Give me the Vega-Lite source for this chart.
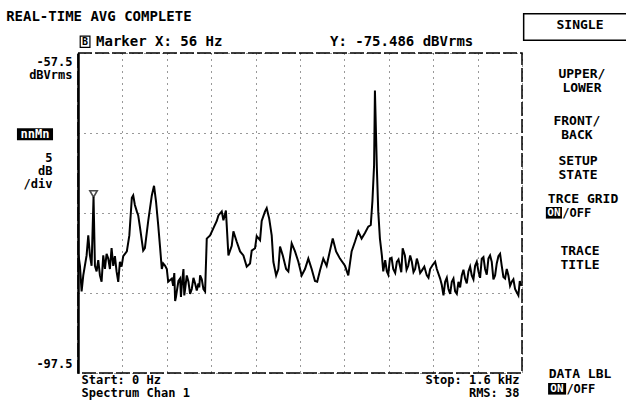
{
  "$schema": "https://vega.github.io/schema/vega-lite/v6.json",
  "width": 444,
  "height": 320,
  "autosize": {"type": "none"},
  "padding": {"left": 78, "top": 53, "right": 104, "bottom": 32},
  "background": "white",
  "config": {
    "view": {"stroke": "black", "strokeWidth": 1.5, "strokeDash": [14, 3]},
    "font": "DejaVu Sans Mono",
    "text": {"font": "DejaVu Sans Mono", "fontWeight": "bold", "color": "black", "fontSize": 13, "lineHeight": 14}
  },
  "layer": [
    {
      "data": {"values": [
        {"f": 0, "v": -55},
        {"f": 1, "v": -82.6}, {"f": 7, "v": -84.1}, {"f": 13, "v": -87.3}, {"f": 19, "v": -85.3},
        {"f": 31, "v": -82.8}, {"f": 37, "v": -80.3}, {"f": 43, "v": -82.8}, {"f": 49, "v": -84.1},
        {"f": 56, "v": -75.486}, {"f": 61, "v": -84.1}, {"f": 67, "v": -84.8}, {"f": 73, "v": -83.4}, {"f": 79, "v": -85.3},
        {"f": 85, "v": -86.1}, {"f": 91, "v": -82.8}, {"f": 97, "v": -84.5}, {"f": 103, "v": -82.6}, {"f": 109, "v": -83.2},
        {"f": 115, "v": -84.5}, {"f": 121, "v": -81.9}, {"f": 127, "v": -84.1}, {"f": 133, "v": -82.9}, {"f": 139, "v": -84.8},
        {"f": 145, "v": -86.1}, {"f": 151, "v": -83.6}, {"f": 157, "v": -84.2}, {"f": 163, "v": -82.9}, {"f": 176, "v": -82.3},
        {"f": 185, "v": -80.3}, {"f": 194, "v": -75.6}, {"f": 199, "v": -75.3}, {"f": 205, "v": -76.5},
        {"f": 212, "v": -77.3}, {"f": 217, "v": -77.8}, {"f": 223, "v": -79.2}, {"f": 235, "v": -82.2},
        {"f": 241, "v": -81.9}, {"f": 253, "v": -78.5}, {"f": 266, "v": -75.3}, {"f": 274, "v": -74.1},
        {"f": 281, "v": -76.0}, {"f": 289, "v": -79.0}, {"f": 296, "v": -81.9}, {"f": 302, "v": -84.5},
        {"f": 307, "v": -83.8}, {"f": 314, "v": -84.1}, {"f": 320, "v": -84.5}, {"f": 325, "v": -86.1},
        {"f": 338, "v": -85.7}, {"f": 343, "v": -86.6}, {"f": 347, "v": -85.0}, {"f": 350, "v": -88.5}, {"f": 353, "v": -88.0}, {"f": 356, "v": -87.3},
        {"f": 362, "v": -86.0}, {"f": 368, "v": -85.7}, {"f": 371, "v": -88.0}, {"f": 374, "v": -86.6}, {"f": 377, "v": -85.5}, {"f": 380, "v": -84.5},
        {"f": 383, "v": -87.8}, {"f": 386, "v": -87.0}, {"f": 392, "v": -85.3}, {"f": 398, "v": -86.1}, {"f": 404, "v": -87.6},
        {"f": 410, "v": -87.0}, {"f": 416, "v": -85.6}, {"f": 422, "v": -86.3}, {"f": 428, "v": -87.2}, {"f": 434, "v": -86.3},
        {"f": 437, "v": -86.8}, {"f": 440, "v": -85.3}, {"f": 446, "v": -85.8}, {"f": 452, "v": -87.0}, {"f": 458, "v": -87.3}, {"f": 464, "v": -80.7},
        {"f": 476, "v": -80.3}, {"f": 488, "v": -79.4}, {"f": 500, "v": -78.5}, {"f": 506, "v": -77.8},
        {"f": 518, "v": -77.3}, {"f": 524, "v": -78.4}, {"f": 533, "v": -77.2}, {"f": 542, "v": -82.8},
        {"f": 554, "v": -81.6}, {"f": 560, "v": -79.8}, {"f": 572, "v": -81.1}, {"f": 584, "v": -82.3},
        {"f": 596, "v": -82.8}, {"f": 608, "v": -84.2}, {"f": 620, "v": -83.8}, {"f": 626, "v": -82.2},
        {"f": 638, "v": -81.9}, {"f": 644, "v": -80.4}, {"f": 656, "v": -80.9}, {"f": 662, "v": -78.5},
        {"f": 674, "v": -77.3}, {"f": 680, "v": -76.9}, {"f": 689, "v": -78.2}, {"f": 698, "v": -80.3},
        {"f": 704, "v": -83.6}, {"f": 714, "v": -85.3}, {"f": 722, "v": -84.5}, {"f": 728, "v": -81.7},
        {"f": 738, "v": -82.8}, {"f": 750, "v": -84.5}, {"f": 758, "v": -84.8}, {"f": 770, "v": -81.3},
        {"f": 782, "v": -82.3}, {"f": 794, "v": -83.6}, {"f": 806, "v": -85.3}, {"f": 818, "v": -84.5},
        {"f": 830, "v": -83.2}, {"f": 842, "v": -84.5}, {"f": 854, "v": -86.0}, {"f": 862, "v": -86.1},
        {"f": 872, "v": -84.7}, {"f": 884, "v": -83.2}, {"f": 896, "v": -84.1}, {"f": 908, "v": -82.2},
        {"f": 918, "v": -80.7}, {"f": 930, "v": -82.3}, {"f": 944, "v": -83.2}, {"f": 962, "v": -84.1},
        {"f": 974, "v": -85.3}, {"f": 986, "v": -82.3}, {"f": 998, "v": -81.1}, {"f": 1010, "v": -79.8},
        {"f": 1022, "v": -80.7}, {"f": 1034, "v": -80.0}, {"f": 1046, "v": -79.2}, {"f": 1055, "v": -79.0},
        {"f": 1061, "v": -76.0}, {"f": 1067, "v": -71.5}, {"f": 1070, "v": -62.2}, {"f": 1077, "v": -71.9},
        {"f": 1082, "v": -77.3}, {"f": 1088, "v": -80.7}, {"f": 1095, "v": -82.8}, {"f": 1100, "v": -84.8},
        {"f": 1107, "v": -83.4}, {"f": 1113, "v": -84.8}, {"f": 1118, "v": -85.2}, {"f": 1124, "v": -83.2}, {"f": 1130, "v": -83.1},
        {"f": 1136, "v": -84.5}, {"f": 1143, "v": -85.0}, {"f": 1149, "v": -83.6}, {"f": 1155, "v": -83.3},
        {"f": 1160, "v": -84.1}, {"f": 1165, "v": -84.9}, {"f": 1170, "v": -81.9}, {"f": 1178, "v": -82.8}, {"f": 1184, "v": -84.6}, {"f": 1190, "v": -84.1},
        {"f": 1197, "v": -82.8}, {"f": 1203, "v": -83.6}, {"f": 1209, "v": -84.9}, {"f": 1215, "v": -84.5}, {"f": 1221, "v": -83.2}, {"f": 1226, "v": -83.8},
        {"f": 1233, "v": -85.0}, {"f": 1239, "v": -84.7}, {"f": 1248, "v": -84.2},
        {"f": 1257, "v": -85.3}, {"f": 1263, "v": -85.6}, {"f": 1269, "v": -84.5}, {"f": 1278, "v": -84.0}, {"f": 1287, "v": -83.6}, {"f": 1293, "v": -84.5},
        {"f": 1305, "v": -85.7}, {"f": 1311, "v": -86.5}, {"f": 1317, "v": -87.8}, {"f": 1323, "v": -86.1}, {"f": 1329, "v": -85.6}, {"f": 1335, "v": -87.0},
        {"f": 1341, "v": -87.6}, {"f": 1347, "v": -86.1}, {"f": 1353, "v": -85.7}, {"f": 1359, "v": -87.3}, {"f": 1365, "v": -87.6}, {"f": 1371, "v": -86.1},
        {"f": 1377, "v": -86.8}, {"f": 1383, "v": -85.3}, {"f": 1389, "v": -84.6}, {"f": 1395, "v": -85.7}, {"f": 1401, "v": -86.3}, {"f": 1407, "v": -84.8},
        {"f": 1413, "v": -84.2}, {"f": 1419, "v": -85.3}, {"f": 1425, "v": -85.8}, {"f": 1431, "v": -84.1}, {"f": 1437, "v": -83.6},
        {"f": 1443, "v": -84.8}, {"f": 1449, "v": -85.6}, {"f": 1455, "v": -83.2}, {"f": 1461, "v": -83.0}, {"f": 1467, "v": -84.5},
        {"f": 1473, "v": -85.2}, {"f": 1479, "v": -83.2}, {"f": 1485, "v": -82.8}, {"f": 1491, "v": -83.6}, {"f": 1497, "v": -85.8},
        {"f": 1503, "v": -85.3}, {"f": 1509, "v": -83.8}, {"f": 1515, "v": -82.9}, {"f": 1521, "v": -82.6}, {"f": 1527, "v": -84.1},
        {"f": 1533, "v": -85.5}, {"f": 1539, "v": -85.7}, {"f": 1545, "v": -84.5}, {"f": 1551, "v": -85.3}, {"f": 1557, "v": -86.6},
        {"f": 1563, "v": -86.1}, {"f": 1569, "v": -85.8}, {"f": 1575, "v": -87.0}, {"f": 1581, "v": -87.4},
        {"f": 1587, "v": -87.8}, {"f": 1592, "v": -86.0}, {"f": 1597, "v": -86.6}
      ]},
      "mark": {"type": "line", "color": "black", "strokeWidth": 2, "clip": true},
      "encoding": {
        "x": {
          "field": "f", "type": "quantitative",
          "scale": {"domain": [0, 1600], "nice": false, "zero": false},
          "axis": {
            "title": null,
            "values": [0, 160, 320, 480, 640, 800, 960, 1120, 1280, 1440, 1600],
            "grid": true, "gridColor": "black", "gridDash": [1, 5], "gridOpacity": 0.8,
            "ticks": false, "domain": false,
            "labelFlush": true, "labelFlushOffset": -3, "labelOverlap": false, "labelBound": false,
            "labelExpr": "datum.value == 0 ? ['Start: 0 Hz', 'Spectrum Chan 1'] : datum.value == 1600 ? ['Stop: 1.6 kHz', 'RMS: 38'] : ''",
            "labelPadding": 1, "labelBaseline": "top",
            "labelFont": "DejaVu Sans Mono", "labelFontSize": 12, "labelFontWeight": "bold",
            "labelColor": "black", "labelLineHeight": 13
          }
        },
        "y": {
          "field": "v", "type": "quantitative",
          "scale": {"domain": [-97.5, -57.5], "nice": false, "zero": false},
          "axis": {
            "title": null,
            "values": [-97.5, -92.5, -87.5, -82.5, -77.5, -72.5, -67.5, -62.5, -57.5],
            "grid": true, "gridColor": "black", "gridDash": [1, 5], "gridOpacity": 0.8,
            "ticks": false, "domain": true, "domainColor": "black", "domainWidth": 2.5,
            "labelFlush": true, "labelFlushOffset": -3, "labelOverlap": false, "labelBound": false,
            "labelExpr": "datum.value == -57.5 ? ['-57.5', 'dBVrms'] : datum.value == -97.5 ? '-97.5' : ''",
            "labelPadding": 6,
            "labelFont": "DejaVu Sans Mono", "labelFontSize": 12, "labelFontWeight": "bold",
            "labelColor": "black", "labelLineHeight": 13
          }
        }
      }
    },
    {
      "data": {"values": [{"f": 56, "v": -75.486}]},
      "mark": {"type": "point", "shape": "triangle-down", "filled": false, "color": "black", "strokeWidth": 1.6, "size": 55, "yOffset": -3},
      "encoding": {"x": {"field": "f", "type": "quantitative"}, "y": {"field": "v", "type": "quantitative"}}
    },
    {
      "data": {"values": [{"t": "REAL-TIME AVG COMPLETE"}]},
      "mark": {"type": "text", "align": "left", "baseline": "middle", "fontSize": 14},
      "encoding": {"x": {"datum": -259}, "y": {"datum": -53.0}, "text": {"field": "t"}}
    },
    {
      "data": {"values": [{"t": "B"}]},
      "mark": {"type": "rect", "fill": "white", "stroke": "black", "strokeWidth": 1.2},
      "encoding": {"x": {"datum": 8}, "x2": {"datum": 43}, "y": {"datum": -55.4}, "y2": {"datum": -56.8}}
    },
    {
      "data": {"values": [{"t": "B"}]},
      "mark": {"type": "text", "align": "center", "baseline": "middle", "fontSize": 10},
      "encoding": {"x": {"datum": 25}, "y": {"datum": -56.1}, "text": {"field": "t"}}
    },
    {
      "data": {"values": [{"t": "Marker X: 56 Hz"}]},
      "mark": {"type": "text", "align": "left", "baseline": "middle", "fontSize": 14},
      "encoding": {"x": {"datum": 65}, "y": {"datum": -56.1}, "text": {"field": "t"}}
    },
    {
      "data": {"values": [{"t": "Y: -75.486 dBVrms"}]},
      "mark": {"type": "text", "align": "left", "baseline": "middle", "fontSize": 14},
      "encoding": {"x": {"datum": 908}, "y": {"datum": -56.1}, "text": {"field": "t"}}
    },
    {
      "data": {"values": [{"t": "scale"}]},
      "mark": {"type": "rect", "fill": "black"},
      "encoding": {"x": {"datum": -220}, "x2": {"datum": -90}, "y": {"datum": -66.9}, "y2": {"datum": -68.4}}
    },
    {
      "data": {"values": [{"t": "nnMn"}]},
      "mark": {"type": "text", "align": "center", "baseline": "middle", "fontSize": 12, "color": "white"},
      "encoding": {"x": {"datum": -155}, "y": {"datum": -67.65}, "text": {"field": "t"}}
    },
    {
      "data": {"values": [{"t": ["5", "dB", "/div"]}]},
      "mark": {"type": "text", "align": "right", "baseline": "middle", "fontSize": 12, "lineHeight": 13},
      "encoding": {"x": {"datum": -92}, "y": {"datum": -70.6}, "text": {"field": "t"}}
    },
    {
      "data": {"values": [{"t": "box"}]},
      "mark": {"type": "rect", "fill": null, "stroke": "black", "strokeWidth": 1.5},
      "encoding": {"x": {"datum": 1606}, "x2": {"datum": 2030}, "y": {"datum": -52.6}, "y2": {"datum": -55.9}}
    },
    {
      "data": {"values": [{"t": "SINGLE"}]},
      "mark": {"type": "text", "align": "center", "baseline": "middle"},
      "encoding": {"x": {"datum": 1809}, "y": {"datum": -54.0}, "text": {"field": "t"}}
    },
    {
      "data": {"values": [{"t": ["UPPER/", "LOWER"]}]},
      "mark": {"type": "text", "align": "center", "baseline": "middle"},
      "encoding": {"x": {"datum": 1816}, "y": {"datum": -60.1}, "text": {"field": "t"}}
    },
    {
      "data": {"values": [{"t": ["FRONT/", "BACK"]}]},
      "mark": {"type": "text", "align": "center", "baseline": "middle"},
      "encoding": {"x": {"datum": 1798}, "y": {"datum": -66.0}, "text": {"field": "t"}}
    },
    {
      "data": {"values": [{"t": ["SETUP", "STATE"]}]},
      "mark": {"type": "text", "align": "center", "baseline": "middle"},
      "encoding": {"x": {"datum": 1802}, "y": {"datum": -71.0}, "text": {"field": "t"}}
    },
    {
      "data": {"values": [{"t": "TRCE GRID"}]},
      "mark": {"type": "text", "align": "center", "baseline": "middle"},
      "encoding": {"x": {"datum": 1820}, "y": {"datum": -75.7}, "text": {"field": "t"}}
    },
    {
      "data": {"values": [{"t": "on"}]},
      "mark": {"type": "rect", "fill": "black"},
      "encoding": {"x": {"datum": 1686}, "x2": {"datum": 1744}, "y": {"datum": -76.75}, "y2": {"datum": -78.2}}
    },
    {
      "data": {"values": [{"t": "ON"}]},
      "mark": {"type": "text", "align": "center", "baseline": "middle", "fontSize": 11, "color": "white"},
      "encoding": {"x": {"datum": 1715}, "y": {"datum": -77.5}, "text": {"field": "t"}}
    },
    {
      "data": {"values": [{"t": "/OFF"}]},
      "mark": {"type": "text", "align": "left", "baseline": "middle", "fontSize": 12},
      "encoding": {"x": {"datum": 1745}, "y": {"datum": -77.5}, "text": {"field": "t"}}
    },
    {
      "data": {"values": [{"t": ["TRACE", "TITLE"]}]},
      "mark": {"type": "text", "align": "center", "baseline": "middle"},
      "encoding": {"x": {"datum": 1809}, "y": {"datum": -82.25}, "text": {"field": "t"}}
    },
    {
      "data": {"values": [{"t": "DATA LBL"}]},
      "mark": {"type": "text", "align": "center", "baseline": "middle"},
      "encoding": {"x": {"datum": 1809}, "y": {"datum": -97.6}, "text": {"field": "t"}}
    },
    {
      "data": {"values": [{"t": "on"}]},
      "mark": {"type": "rect", "fill": "black"},
      "encoding": {"x": {"datum": 1694}, "x2": {"datum": 1759}, "y": {"datum": -98.75}, "y2": {"datum": -100.2}}
    },
    {
      "data": {"values": [{"t": "ON"}]},
      "mark": {"type": "text", "align": "center", "baseline": "middle", "fontSize": 11, "color": "white"},
      "encoding": {"x": {"datum": 1726}, "y": {"datum": -99.5}, "text": {"field": "t"}}
    },
    {
      "data": {"values": [{"t": "/OFF"}]},
      "mark": {"type": "text", "align": "left", "baseline": "middle", "fontSize": 12},
      "encoding": {"x": {"datum": 1760}, "y": {"datum": -99.5}, "text": {"field": "t"}}
    }
  ]
}
